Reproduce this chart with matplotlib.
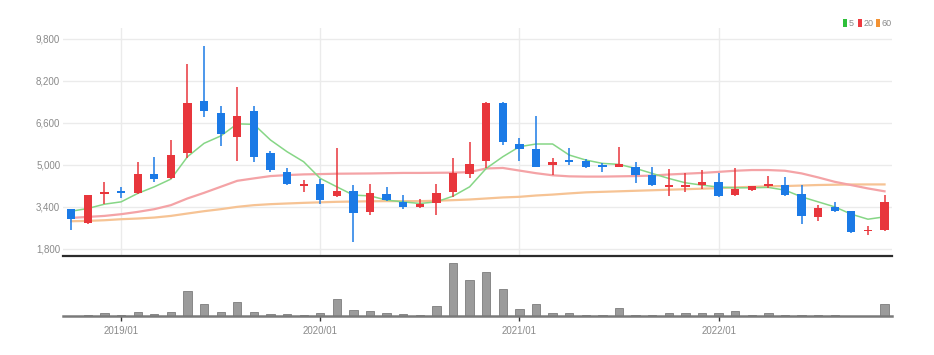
import matplotlib
matplotlib.use("Agg")
import matplotlib.pyplot as plt
from matplotlib.patches import Rectangle
from matplotlib.ticker import FuncFormatter

plt.rcParams['font.family'] = ['Liberation Sans Narrow', 'Liberation Sans', 'DejaVu Sans']

# ---------------- data (monthly candles, 2018/10 .. 2022/11) ----------------
opens = [3309, 2786, 3882, 4000, 3932, 4646, 4505, 5437, 7423, 6965,
         6071, 7053, 5460, 4711, 4199, 4264, 3817, 4008, 3206, 3882,
         3588, 3374, 3550, 3947, 4666, 5143, 7346, 5792, 5613, 4990,
         5181, 5154, 4990, 4925, 4925, 4608, 4161, 4161, 4237, 4340,
         3844, 4035, 4188, 4226, 3870, 3017, 3374, 3233, 2481, 2507]
highs = [3330, 3850, 4329, 4138, 5116, 5307, 5945, 8836, 9509, 7244,
         7981, 7244, 5535, 4864, 4417, 4440, 5628, 4226, 4264, 4150,
         3832, 3702, 4252, 5269, 5857, 7408, 7408, 6033, 6845, 5245,
         5651, 5204, 5080, 5666, 5116, 4900, 4825, 4672, 4800, 4672,
         4862, 4200, 4570, 4519, 4226, 3463, 3588, 3250, 2660, 3844]
lows = [2507, 2763, 3500, 3718, 3900, 4340, 4455, 5246, 6835, 5727,
        5143, 5093, 4734, 4227, 3970, 3500, 3790, 2060, 3080, 3630,
        3323, 3336, 3080, 3756, 4490, 4862, 5754, 5143, 4900, 4608,
        4990, 4874, 4722, 4900, 4290, 4186, 3806, 3970, 4061, 3756,
        3819, 4010, 4099, 3806, 2761, 2864, 3210, 2405, 2316, 2481]
closes = [2927, 3832, 3947, 3932, 4634, 4466, 5372, 7347, 7064, 6162,
          6873, 5295, 4787, 4252, 4264, 3653, 3985, 3168, 3932, 3653,
          3374, 3511, 3909, 4682, 5028, 7346, 5857, 5601, 4925, 5093,
          5116, 4925, 4900, 5016, 4608, 4237, 4214, 4214, 4352, 3820,
          4061, 4188, 4264, 3844, 3042, 3360, 3233, 2443, 2532, 3588]
volumes = [0, 4, 8, 4, 13, 7, 13, 75, 36, 12,
           42, 13, 7, 7, 4, 9, 51, 19, 15, 9,
           7, 4, 31, 160, 109, 131, 80, 22, 37, 8,
           9, 3, 3, 24, 3, 3, 9, 8, 9, 8,
           15, 3, 9, 3, 3, 3, 3, 0, 0, 37]
ma5 = [3233, 3336, 3500, 3588, 3909, 4161, 4455, 5307, 5818, 6097,
       6560, 6540, 5945, 5498, 5116, 4482, 4161, 3844, 3817, 3653,
       3588, 3526, 3588, 3806, 4161, 4862, 5307, 5689, 5792, 5792,
       5372, 5181, 5054, 5016, 4862, 4672, 4480, 4314, 4226, 4150,
       4125, 4125, 4138, 4035, 3779, 3588, 3397, 3118, 2927, 3017]
ma20 = [2977, 3015, 3053, 3118, 3206, 3309, 3462, 3718, 3932, 4161,
        4390, 4482, 4570, 4608, 4634, 4646, 4660, 4665, 4670, 4680,
        4690, 4690, 4696, 4700, 4720, 4860, 4880, 4780, 4680, 4600,
        4560, 4550, 4550, 4560, 4570, 4590, 4630, 4660, 4690, 4730,
        4773, 4800, 4800, 4773, 4672, 4519, 4352, 4226, 4099, 3990]
ma60 = [2850, 2863, 2888, 2927, 2953, 2990, 3053, 3144, 3233, 3309,
        3398, 3462, 3500, 3526, 3550, 3570, 3590, 3600, 3610, 3615,
        3615, 3615, 3630, 3653, 3678, 3717, 3756, 3780, 3830, 3865,
        3910, 3950, 3970, 3990, 4010, 4030, 4050, 4070, 4090, 4110,
        4140, 4160, 4180, 4190, 4210, 4230, 4240, 4250, 4252, 4252]
x_tick_pos = [3, 15, 27, 39]
x_tick_labels = ["2019/01", "2020/01", "2021/01", "2022/01"]
y_ticks = [1800, 3400, 5000, 6600, 8200, 9800]
legend_labels = ["5", "20", "60"]

# ---------------- styles ----------------
RED = '#e8363c'
BLUE = '#1b7ae6'
MA_COLORS = ['#86d686', '#f4a3a6', '#f6c394']
LEG_COLORS = ['#2fbf3a', '#ee3a40', '#f39233']
TXT = '#8a8a8a'
W, H = 934, 355

fig = plt.figure(figsize=(W / 100, H / 100), dpi=100)
fig.patch.set_facecolor('white')

def fx(px):
    return px / W

def fy(py):
    return 1 - py / H

# main price axes
ax = fig.add_axes([fx(63), fy(255.7), fx(892) - fx(63), fy(28) - fy(255.7)])
# volume axes
axv = fig.add_axes([fx(63), fy(316), fx(892) - fx(63), fy(258) - fy(316)])

n = len(closes)
xs = list(range(n))
XL = (-0.5, 49.45)

# grid
for yt in y_ticks:
    ax.axhline(yt, color='#ebebeb', lw=1, zorder=0)
for xt in x_tick_pos:
    ax.axvline(xt, color='#ebebeb', lw=1, zorder=0)

# moving averages
ax.plot(xs, ma60, color=MA_COLORS[2], lw=1.6, zorder=2)
ax.plot(xs, ma20, color=MA_COLORS[1], lw=1.6, zorder=2)
ax.plot(xs, ma5, color=MA_COLORS[0], lw=1.1, zorder=2)

# candles
cols = [RED if c >= o else BLUE for o, c in zip(opens, closes)]
ax.vlines(xs, lows, highs, colors=cols, lw=1.1, zorder=3)
bottoms = [min(o, c) for o, c in zip(opens, closes)]
heights = [max(abs(c - o), 45) for o, c in zip(opens, closes)]
ax.bar(xs, heights, bottom=bottoms, width=0.5, color=cols, lw=0, zorder=4)

ax.set_xlim(*XL)
ax.set_ylim(1537, 10211)
ax.set_yticks(y_ticks)
ax.yaxis.set_major_formatter(FuncFormatter(lambda v, p: f"{int(v):,}"))
ax.tick_params(axis='y', length=0, pad=2, labelsize=7, labelcolor=TXT)
ax.set_xticks([])
for s in ['top', 'right', 'left']:
    ax.spines[s].set_visible(False)
ax.spines['bottom'].set_color('#2b2b2b')
ax.spines['bottom'].set_linewidth(1.6)

# volume
axv.bar(xs, volumes, width=0.5, color='#9b9b9b', edgecolor='#7d7d7d', lw=0.6, zorder=2)
axv.set_xlim(*XL)
axv.set_ylim(0, 174)
axv.set_yticks([])
axv.set_xticks(x_tick_pos)
axv.set_xticklabels(x_tick_labels)
axv.tick_params(axis='x', length=3.5, width=1, color='#333333', pad=3.5,
                labelsize=7, labelcolor=TXT)
for s in ['top', 'right', 'left']:
    axv.spines[s].set_visible(False)
axv.spines['bottom'].set_color('#7a7a7a')
axv.spines['bottom'].set_linewidth(1.8)
axv.patch.set_alpha(0)

# legend (top right)
leg_x = [843, 858, 876]
for lx, lc, lab in zip(leg_x, LEG_COLORS, legend_labels):
    fig.add_artist(Rectangle((fx(lx), fy(27)), fx(4), fy(19) - fy(27),
                             transform=fig.transFigure, color=lc, lw=0))
    fig.text(fx(lx + 6), fy(23), lab, fontsize=6.5, color=TXT,
             ha='left', va='center')

fig.savefig('out.png', dpi=100, facecolor='white')
